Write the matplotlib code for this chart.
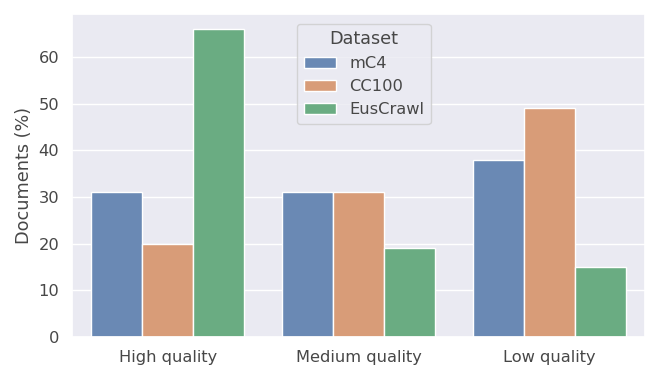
import matplotlib
matplotlib.use("Agg")
from matplotlib import pyplot as plt
import seaborn as sns
import pandas as pd

qualities = ["High quality", "Medium quality", "Low quality"]
datasets = ["mC4", "CC100", "EusCrawl"]
mc4 = [31, 31, 38]
cc100 = [20, 31, 49]
euscrawl = [66, 19, 15]

rows = []
for name, vals in zip(datasets, [mc4, cc100, euscrawl]):
	for q, v in zip(qualities, vals):
		rows.append({"Quality": q, "Dataset": name, "Documents (%)": v})
df = pd.DataFrame(rows)

sns.set_theme(style="darkgrid", font_scale=1.06)
grey = "#474747"
plt.rcParams.update({"text.color": grey, "axes.labelcolor": grey,
	"xtick.color": grey, "ytick.color": grey})
colors = ["#6a89b4", "#d89c78", "#6aac82"]

fig = plt.figure(figsize=(6.51, 3.67), dpi=100)
ax = fig.add_axes([0.111, 0.082, 0.88, 0.88])
sns.barplot(data=df, x="Quality", y="Documents (%)", hue="Dataset", ax=ax,
	palette=colors, saturation=1)
ax.set_xlabel("")
ax.set_ylim(0, 69.2)
ax.legend(title="Dataset", loc="upper center", bbox_to_anchor=(0.509, 0.995))
fig.savefig("out.png", dpi=100)
